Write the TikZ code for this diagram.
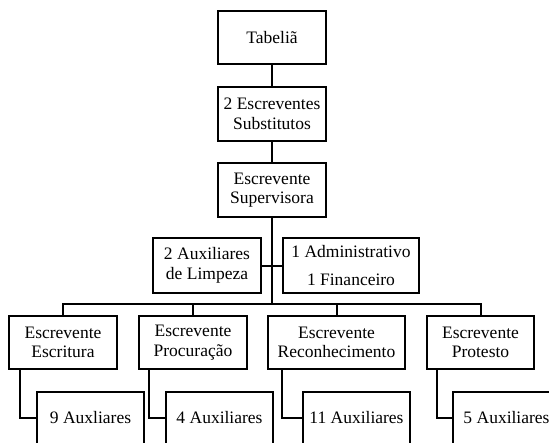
\documentclass[tikz,border=0pt]{standalone}
\usepackage{fontspec}
\setmainfont{Liberation Serif}
\begin{document}
\begin{tikzpicture}[x=1pt,y=-1pt,
  box/.style={draw, line width=2pt, align=center, inner sep=0pt,
    font=\fontsize{17.5}{19.5}\selectfont, minimum height=54pt},
  conn/.style={line width=2pt}]
\useasboundingbox (0,0) rectangle (549,442);
\clip (0,0) rectangle (549,442);
\fill[white] (0,0) rectangle (549,442);
\node[box, minimum width=108pt, minimum height=53pt] (tab) at (272,37.5) {Tabeliã};
\node[box, minimum width=108pt] (sub) at (272,114) {2 Escreventes\\Substitutos};
\node[box, minimum width=108pt] (sup) at (272,190) {Escrevente\\Supervisora};
\node[box, minimum width=108pt, minimum height=55pt] (aux) at (207,265.5) {2 Auxiliares\\de Limpeza};
\node[box, minimum width=136pt, minimum height=55pt] (adm) at (351,265.5) {1 Administrativo\\[8pt]1 Financeiro};
\node[box, minimum width=108pt, minimum height=53pt] (esc) at (63,342.5) {Escrevente\\Escritura};
\node[box, minimum width=108pt, minimum height=53pt] (pro) at (193,342.5) {Escrevente\\Procuração};
\node[box, minimum width=137pt, minimum height=53pt] (rec) at (336.5,342.5) {Escrevente\\Reconhecimento};
\node[box, minimum width=107pt, minimum height=53pt] (prt) at (480.5,342.5) {Escrevente\\Protesto};
\node[box, minimum width=107pt, minimum height=52pt] (a9) at (90.5,418) {9 Auxliares};
\node[box, minimum width=107pt, minimum height=52pt] (a4) at (219.5,418) {4 Auxiliares};
\node[box, minimum width=107pt, minimum height=52pt] (a11) at (356.5,418) {11 Auxiliares};
\node[box, minimum width=107pt, minimum height=52pt] (a5) at (506.5,418) {5 Auxiliares};
\coordinate (bus) at (272,304);
\draw[conn] (tab.south) -- (sub.north);
\draw[conn] (sub.south) -- (sup.north);
\draw[conn] (sup.south) -- (bus);
\draw[conn] (aux.east) -- (adm.west);
\draw[conn] (esc.north) |- (bus) -| (prt.north);
\draw[conn] (pro.north) -- (pro.north |- bus);
\draw[conn] (rec.north) -- (rec.north |- bus);
\draw[conn] ([xshift=12pt]esc.south west) |- (a9.west);
\draw[conn] ([xshift=11pt]pro.south west) |- (a4.west);
\draw[conn] ([xshift=15pt]rec.south west) |- (a11.west);
\draw[conn] ([xshift=11pt]prt.south west) |- (a5.west);
\end{tikzpicture}
\end{document}
